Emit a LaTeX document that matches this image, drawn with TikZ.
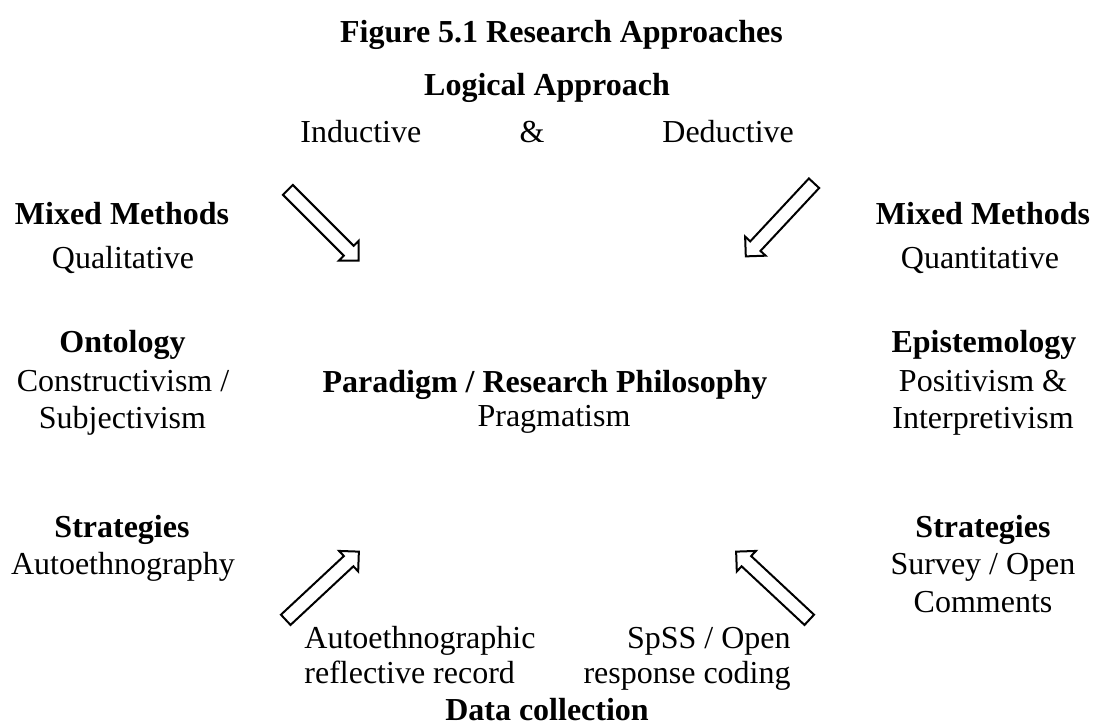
\documentclass[tikz,border=0pt]{standalone}
\usepackage{fontspec}
\setmainfont{Liberation Serif}
\usetikzlibrary{shapes.arrows}
\tikzset{
  txt/.style={inner sep=0pt, anchor=base, font=\fontsize{16pt}{19pt}\selectfont},
  hd/.style={txt, font=\fontsize{16pt}{19pt}\selectfont\bfseries},
  blockarrow/.style={single arrow, draw=black, line width=1pt, fill=white,
    inner xsep=0pt, inner ysep=3pt, minimum height=50pt, minimum width=13pt,
    single arrow head extend=3.5pt, single arrow tip angle=90, anchor=tail}
}
\begin{document}
\begin{tikzpicture}[x=0.5pt, y=-0.5pt]
\useasboundingbox (0,0) rectangle (1094,725);
% top
\node[hd] (title) at (561.5,42) {Figure 5.1 Research Approaches};
\node[hd] (logical) at (547,95) {Logical Approach};
\node[txt, anchor=base west] (inductive) at (300,142) {Inductive};
\node[txt] (amp) at (532,142) {\&};
\node[txt, anchor=base west] (deductive) at (662,142) {Deductive};
% mixed methods
\node[hd] (mmL) at (122,224) {Mixed Methods};
\node[txt] (qual) at (123,268) {Qualitative};
\node[hd] (mmR) at (983,224) {Mixed Methods};
\node[txt] (quant) at (980,268) {Quantitative};
% ontology / epistemology
\node[hd] (onto) at (122.5,352) {Ontology};
\node[txt] (constr) at (123,391) {Constructivism /};
\node[txt] (subj) at (122.5,428) {Subjectivism};
\node[hd] (epis) at (984,352) {Epistemology};
\node[txt] (posit) at (983,391) {Positivism \&};
\node[txt] (interp) at (983,428) {Interpretivism};
% centre
\node[hd] (paradigm) at (545,392) {Paradigm / Research Philosophy};
\node[txt] (pragm) at (554,426) {Pragmatism};
% strategies
\node[hd] (stratL) at (122,537) {Strategies};
\node[txt] (autoeth) at (123,574) {Autoethnography};
\node[hd] (stratR) at (983,537) {Strategies};
\node[txt] (survey) at (983,574) {Survey / Open};
\node[txt] (comments) at (983,612) {Comments};
% data collection
\node[txt, anchor=base west] (rec1) at (304,648) {Autoethnographic};
\node[txt, anchor=base west] (rec2) at (304,683) {reflective record};
\node[txt, anchor=base east] (spss1) at (791,648) {SpSS / Open};
\node[txt, anchor=base east] (spss2) at (791,683) {response coding};
\node[hd] (datacoll) at (547,720) {Data collection};
% block arrows
\node[blockarrow, rotate=-45] (a1) at (287.2,189.2) {};
\node[blockarrow, rotate=-133] (a2) at (814.7,182.5) {};
\node[blockarrow, rotate=43] (a3) at (285,620.5) {};
\node[blockarrow, rotate=137] (a4) at (810,620.5) {};
\end{tikzpicture}
\end{document}
